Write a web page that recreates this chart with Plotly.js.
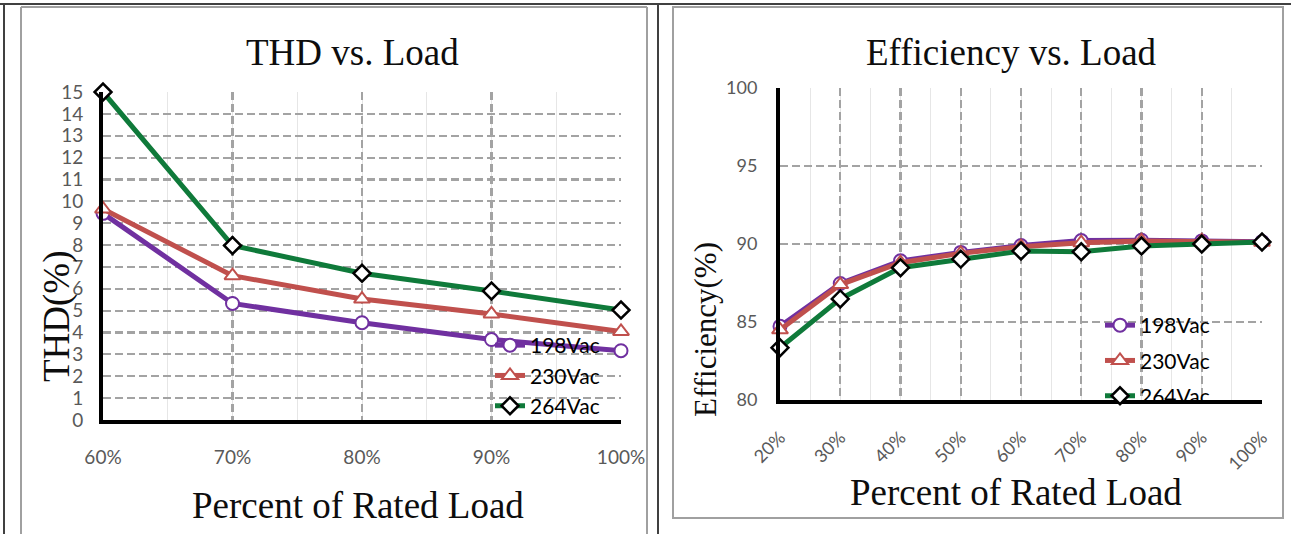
<!DOCTYPE html>
<html><head><meta charset="utf-8">
<script src="https://cdn.plot.ly/plotly-3.0.1.min.js"></script>
<style>html,body{margin:0;padding:0;background:#fff;overflow:hidden}#chart{width:1291px;height:534px}</style>
</head><body><div id="chart"></div>
<script>
// ---- data ----
const thdLoad = [60, 70, 80, 90, 100];
const thd198 = [9.45, 5.33, 4.45, 3.68, 3.17];
const thd230 = [9.65, 6.6, 5.53, 4.85, 4.05];
const thd264 = [15, 7.98, 6.71, 5.9, 5.03];
const thdTicks = [0,1,2,3,4,5,6,7,8,9,10,11,12,13,14,15];

const effLoad = [20, 30, 40, 50, 60, 70, 80, 90, 100];
const eff198 = [84.72, 87.47, 88.92, 89.46, 89.9, 90.22, 90.24, 90.2, 90.15];
const eff230 = [84.5, 87.4, 88.8, 89.4, 89.83, 90.08, 90.2, 90.2, 90.12];
const eff264 = [83.35, 86.48, 88.48, 89.03, 89.55, 89.5, 89.87, 90.0, 90.13];
const effTicks = [80, 85, 90, 95, 100];

const seriesNames = ['198Vac', '230Vac', '264Vac'];
const chartTitles = ['THD vs. Load', 'Efficiency vs. Load'];
const xTitle = 'Percent of Rated Load';
const yTitles = ['THD(%)', 'Efficiency(%)'];

// ---- styles ----
const W = 1291, H = 534;
const px = x => x / W, py = y => 1 - y / H;
const colors = ['#7030A0', '#C0504D', '#0F7A3A'];
const markerStyle = [
  {symbol: 'circle', size: 13, color: '#ffffff', line: {color: '#7030A0', width: 2}},
  {symbol: 'triangle-up', size: 14, color: '#ffffff', line: {color: '#C0504D', width: 2}},
  {symbol: 'diamond', size: 13, color: '#ffffff', line: {color: '#000000', width: 2.5}}
];
const tickFontL = {family: 'Lato, sans-serif', size: 19, color: '#595959'};
const tickFontR = {family: 'Lato, sans-serif', size: 18, color: '#595959'};
const legendFont = {family: 'Lato, sans-serif', size: 21, color: '#000'};
const serif = 'Liberation Serif, Times New Roman, serif';

function mk(x, y, i, xa, ya, leg) {
  return {
    x: x, y: y, type: 'scatter', mode: 'lines+markers', name: seriesNames[i],
    xaxis: xa, yaxis: ya, legend: leg, legendgroup: leg + i, cliponaxis: false,
    line: {color: colors[i], width: 5},
    marker: markerStyle[i]
  };
}
const thdSeries = [thd198, thd230, thd264];
const effSeries = [eff198, eff230, eff264];
const traces = [];
thdSeries.forEach((s, i) => traces.push(mk(thdLoad, s, i, 'x', 'y', 'legend')));
effSeries.forEach((s, i) => traces.push(mk(effLoad, s, i, 'x2', 'y2', 'legend2')));

const common = {
  showline: true, linecolor: '#000', linewidth: 4, zeroline: false,
  showgrid: true, gridcolor: '#A3A3A3', gridwidth: 2.2, griddash: '8px,4px',
  ticks: '', fixedrange: true
};
const minorGrid = {dtick: 5, showgrid: true, gridcolor: '#E6E6E6', gridwidth: 1, griddash: 'solid', ticks: ''};

const layout = {
  width: W, height: H, margin: {l: 0, r: 0, t: 0, b: 0},
  paper_bgcolor: '#fff', plot_bgcolor: 'rgba(0,0,0,0)', showlegend: true,
  xaxis: Object.assign({}, common, {
    domain: [px(103), px(621)], anchor: 'y', range: [60, 100], tickfont: tickFontL,
    tickvals: thdLoad, ticktext: thdLoad.map(v => v + '%'), ticklabelstandoff: 17,
    minor: Object.assign({tick0: 60}, minorGrid)
  }),
  yaxis: Object.assign({}, common, {
    domain: [py(420), py(92)], anchor: 'x', range: [0, 15], tickfont: tickFontL,
    tickvals: thdTicks, ticklabelstandoff: 12
  }),
  xaxis2: Object.assign({}, common, {
    domain: [px(780), px(1262)], anchor: 'y2', range: [20, 100], tickfont: tickFontR,
    tickvals: effLoad, ticktext: effLoad.map(v => v + '%'), tickangle: -45, ticklabelstandoff: 16,
    minor: Object.assign({tick0: 20}, minorGrid)
  }),
  yaxis2: Object.assign({}, common, {
    domain: [py(400), py(88)], anchor: 'x2', range: [80, 100], tickfont: tickFontR,
    tickvals: effTicks, ticklabelstandoff: 15
  }),
  legend: {
    x: px(490), y: py(325), xanchor: 'left', yanchor: 'top', bgcolor: 'rgba(0,0,0,0)',
    font: legendFont, tracegroupgap: 0
  },
  legend2: {
    x: px(1100), y: py(305), xanchor: 'left', yanchor: 'top', bgcolor: 'rgba(0,0,0,0)',
    font: legendFont, tracegroupgap: 5
  },
  annotations: [
    {text: chartTitles[0], x: px(352), y: py(52)},
    {text: chartTitles[1], x: px(1011), y: py(52)},
    {text: xTitle, x: px(358), y: py(505)},
    {text: xTitle, x: px(1016), y: py(492)},
    {text: yTitles[0], x: px(57), y: py(316), textangle: -90},
    {text: yTitles[1], x: px(705), y: py(330), textangle: -90, font: {family: serif, size: 31, color: '#0d0d0d'}}
  ].map(a => Object.assign({xref: 'paper', yref: 'paper', showarrow: false,
    xanchor: 'center', yanchor: 'middle', font: {family: serif, size: 37, color: '#0d0d0d'}}, a)),
  shapes: [
    // outer dark frame
    {type: 'line', x0: 0, x1: 1, y0: py(4), y1: py(4), line: {color: '#404040', width: 2}},
    {type: 'line', x0: px(4), x1: px(4), y0: py(4), y1: 0, line: {color: '#404040', width: 2}},
    {type: 'line', x0: px(658), x1: px(658), y0: py(4), y1: 0, line: {color: '#404040', width: 2}},
    // left chart area border
    {type: 'line', x0: px(21), x1: px(647), y0: py(7), y1: py(7), line: {color: '#A0A0A0', width: 2}},
    {type: 'line', x0: px(21), x1: px(21), y0: py(7), y1: 0, line: {color: '#A0A0A0', width: 2}},
    {type: 'line', x0: px(647), x1: px(647), y0: py(7), y1: 0, line: {color: '#A0A0A0', width: 2}},
    // right chart area border
    {type: 'rect', x0: px(673), x1: px(1283), y0: py(518), y1: py(7), line: {color: '#A0A0A0', width: 2}}
  ].map(s => Object.assign({xref: 'paper', yref: 'paper', layer: 'below'}, s))
};

Plotly.newPlot('chart', traces, layout, {staticPlot: true, displayModeBar: false});
</script></body></html>
